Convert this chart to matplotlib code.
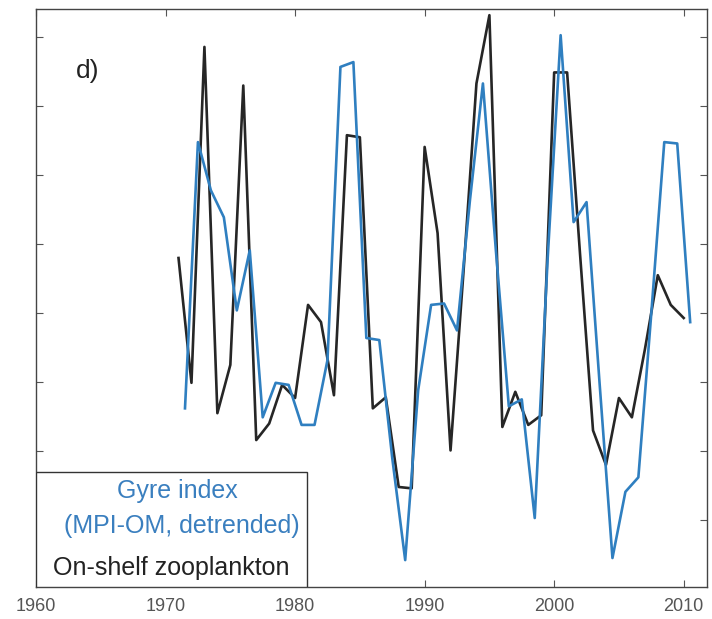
import matplotlib
matplotlib.use("Agg")
import matplotlib.pyplot as plt
from matplotlib.patches import Rectangle
import numpy as np

plt.rcParams['font.family'] = ['Liberation Sans', 'DejaVu Sans']

# on-shelf zooplankton (annual)
zoo_years = np.arange(1971, 2011)
zoo_vals = [0.80, -1.01, 3.86, -1.45, -0.75, 3.30, -1.84, -1.60, -1.04, -1.23,
            0.12, -0.13, -1.19, 2.58, 2.55, -1.38, -1.22, -2.52, -2.54, 2.41,
            1.16, -1.99, 0.60, 3.33, 4.32, -1.65, -1.14, -1.62, -1.48, 3.49,
            3.49, 0.85, -1.70, -2.20, -1.23, -1.51, -0.53, 0.55, 0.12, -0.07]

# gyre index, MPI-OM detrended (mid-year values)
gyre_years = np.arange(1971, 2011) + 0.5
gyre_vals = [-1.38, 2.48, 1.78, 1.39, 0.04, 0.91, -1.51, -1.01, -1.04, -1.62,
             -1.62, -0.68, 3.57, 3.64, -0.36, -0.39, -2.10, -3.58, -1.12, 0.12,
             0.14, -0.25, 1.64, 3.33, 0.91, -1.35, -1.25, -2.97, 0.80, 4.03,
             1.32, 1.61, -1.00, -3.55, -2.59, -2.38, 0.00, 2.48, 2.46, -0.13]

xticks = [1960, 1970, 1980, 1990, 2000, 2010]
yticks = [-3, -2, -1, 0, 1, 2, 3, 4]

fig = plt.figure(figsize=(7.12, 6.19), dpi=100)
ax = fig.add_axes([0.0506, 0.0517, 0.9424, 0.9338])

ax.plot(zoo_years, zoo_vals, color='#262626', lw=1.9)
ax.plot(gyre_years, gyre_vals, color='#2f7fc0', lw=1.9)

ax.set_xlim(1960, 2011.8)
ax.set_ylim(-3.97, 4.41)
ax.set_xticks(xticks)
ax.set_yticks(yticks)
ax.set_yticklabels([])
ax.tick_params(direction='in', length=5, width=0.8, top=True, right=True,
               colors='#555555', labelsize=13, pad=8)
for s in ax.spines.values():
    s.set_color('#444444')
    s.set_linewidth(1.0)

ax.text(0.06, 0.893, 'd)', transform=ax.transAxes, fontsize=19,
        color='#222222', va='center', ha='left')

# legend box
ax.add_patch(Rectangle((0, 0), 0.404, 0.199, transform=ax.transAxes,
                       facecolor='white', edgecolor='#333333', lw=1.0, zorder=5))
ax.text(0.21, 0.166, 'Gyre index', transform=ax.transAxes, fontsize=18,
        color='#3a7fbf', ha='center', va='center', zorder=6)
ax.text(0.217, 0.105, '(MPI-OM, detrended)', transform=ax.transAxes, fontsize=18,
        color='#3a7fbf', ha='center', va='center', zorder=6)
ax.text(0.201, 0.033, 'On-shelf zooplankton', transform=ax.transAxes, fontsize=18,
        color='#222222', ha='center', va='center', zorder=6)

fig.savefig('out.png', dpi=100)
